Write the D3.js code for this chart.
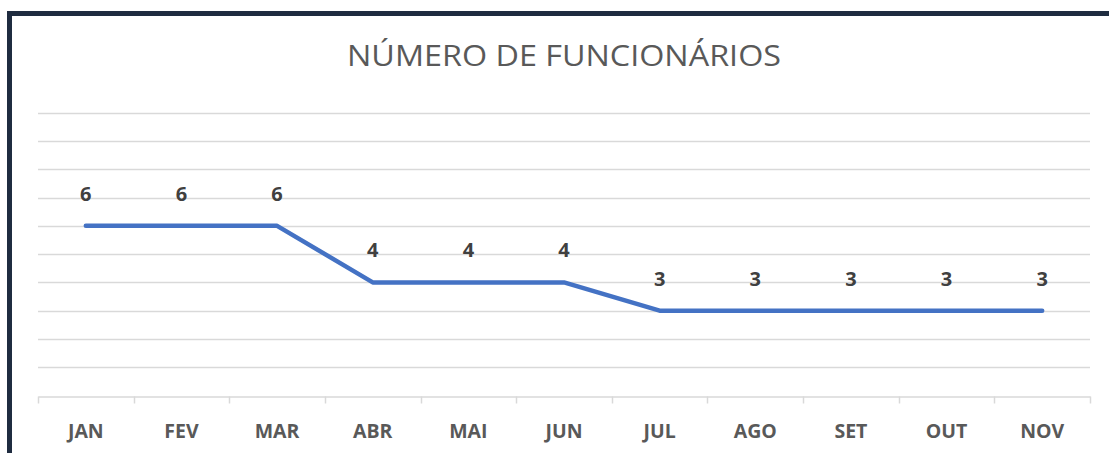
<!DOCTYPE html>
<html>
<head>
<meta charset="utf-8">
<script src="https://cdn.jsdelivr.net/npm/d3@7"></script>
<style>
  html, body { margin: 0; padding: 0; background: #fff; }
  svg { display: block; }
</style>
</head>
<body>
<div id="chart"></div>
<script>
// chart data
var months = ["JAN", "FEV", "MAR", "ABR", "MAI", "JUN", "JUL", "AGO", "SET", "OUT", "NOV"];
var funcionarios = [6, 6, 6, 4, 4, 4, 3, 3, 3, 3, 3];
var gridValues = [0, 1, 2, 3, 4, 5, 6, 7, 8, 9, 10];
var chartTitle = "NÚMERO DE FUNCIONÁRIOS";

var W = 1109, H = 453;
var plot = { left: 38, right: 1090, top: 112.7, bottom: 395.5 };

var svg = d3.select("#chart").append("svg")
	.attr("width", W)
	.attr("height", H);

// dark frame (only top + left visible, the rest is cropped)
svg.append("rect")
	.attr("x", 9.5).attr("y", 13.5)
	.attr("width", W + 20).attr("height", H + 20)
	.attr("fill", "#fff")
	.attr("stroke", "#1f2c40")
	.attr("stroke-width", 5);

var x = d3.scaleBand()
	.domain(months)
	.range([plot.left, plot.right])
	.padding(0);

var y = d3.scaleLinear()
	.domain([0, 10])
	.range([plot.bottom, plot.top]);

// title
svg.append("text")
	.attr("x", 564)
	.attr("y", 66)
	.attr("text-anchor", "middle")
	.attr("textLength", 434)
	.attr("lengthAdjust", "spacingAndGlyphs")
	.style("font-family", "'Open Sans', 'Noto Sans', sans-serif")
	.style("font-weight", 400)
	.style("font-size", "29.5px")
	.style("fill", "#595959")
	.text(chartTitle);

// horizontal gridlines
svg.append("g")
	.selectAll("line")
	.data(gridValues.slice(1))
	.join("line")
	.attr("x1", plot.left)
	.attr("x2", plot.right)
	.attr("y1", function (d) { return Math.round(y(d)) + 0.5; })
	.attr("y2", function (d) { return Math.round(y(d)) + 0.5; })
	.attr("stroke", "#d9d9d9")
	.attr("stroke-width", 1.5);

// category axis
var xAxis = d3.axisBottom(x).tickSize(0).tickPadding(0);
var gx = svg.append("g")
	.attr("transform", "translate(0," + (Math.round(y(0)) + 0.5) + ")")
	.call(xAxis);
gx.select(".domain").attr("stroke", "#d9d9d9").attr("stroke-width", 1.5);
gx.selectAll(".tick text")
	.attr("y", 41.5)
	.attr("dy", null)
	.style("font-family", "'Open Sans', 'Noto Sans', sans-serif")
	.style("font-weight", 700)
	.style("font-size", "19.5px")
	.style("fill", "#595959");

// tick marks at band boundaries
var bounds = months.map(function (m) { return x(m); }).concat([x(months[months.length - 1]) + x.bandwidth()]);
gx.append("g")
	.selectAll("line")
	.data(bounds)
	.join("line")
	.attr("x1", function (d) { return Math.round(d) + 0.5; })
	.attr("x2", function (d) { return Math.round(d) + 0.5; })
	.attr("y1", 0)
	.attr("y2", 7)
	.attr("stroke", "#d9d9d9")
	.attr("stroke-width", 1.5);

var cx = function (d, i) { return x(months[i]) + x.bandwidth() / 2; };

// series line
svg.append("path")
	.datum(funcionarios)
	.attr("fill", "none")
	.attr("stroke", "#4472c4")
	.attr("stroke-width", 4.5)
	.attr("stroke-linecap", "round")
	.attr("stroke-linejoin", "round")
	.attr("d", d3.line().x(cx).y(function (d) { return y(d); }));

// data labels
svg.append("g")
	.selectAll("text")
	.data(funcionarios)
	.join("text")
	.attr("x", cx)
	.attr("y", function (d) { return y(d) - 25; })
	.attr("text-anchor", "middle")
	.style("font-family", "'Open Sans', 'Noto Sans', sans-serif")
	.style("font-weight", 700)
	.style("font-size", "20px")
	.style("fill", "#404040")
	.text(function (d) { return d; });
</script>
</body>
</html>
